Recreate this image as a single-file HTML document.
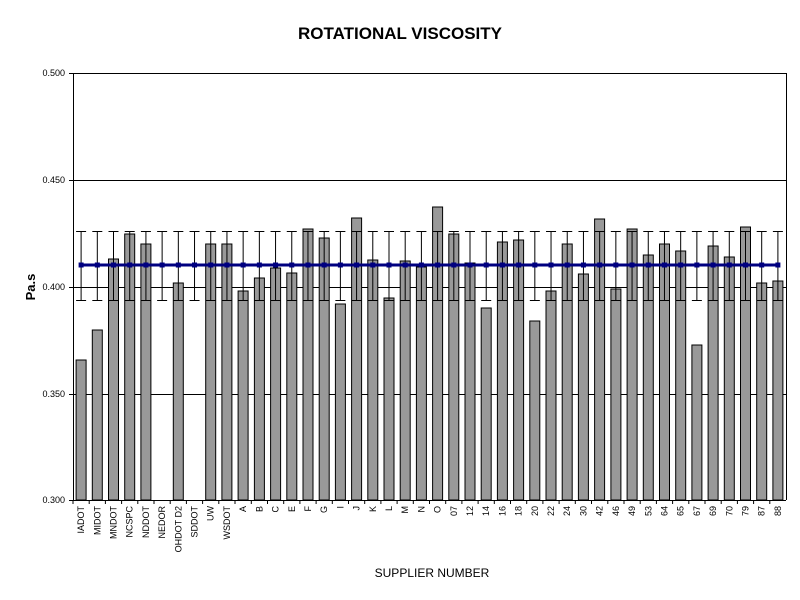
<!DOCTYPE html>
<html><head><meta charset="utf-8"><style>
html,body{margin:0;padding:0;background:#fff;}
svg{display:block;font-family:"Liberation Sans",Arial,sans-serif;}
</style></head><body>
<svg id="c" width="800" height="600" xmlns="http://www.w3.org/2000/svg">
<rect width="800" height="600" fill="#fff"/>
<text x="400" y="39" text-anchor="middle" font-size="17" font-weight="bold">ROTATIONAL VISCOSITY</text>
<text x="0" y="0" transform="translate(35,287) rotate(-90)" text-anchor="middle" font-size="13" font-weight="bold">Pa.s</text>
<text x="432" y="577" text-anchor="middle" font-size="12">SUPPLIER NUMBER</text>
<g stroke="#000" stroke-width="1">
<line x1="73" y1="73.5" x2="786" y2="73.5"/>
<line x1="73" y1="180.5" x2="786" y2="180.5"/>
<line x1="73" y1="287.5" x2="786" y2="287.5"/>
<line x1="73" y1="394.5" x2="786" y2="394.5"/>
<line x1="73" y1="500.5" x2="786" y2="500.5"/>
<line x1="73.5" y1="73" x2="73.5" y2="500"/>
<line x1="786.5" y1="73" x2="786.5" y2="500"/>
<line x1="69" y1="73.5" x2="73" y2="73.5"/>
<line x1="69" y1="180.5" x2="73" y2="180.5"/>
<line x1="69" y1="287.5" x2="73" y2="287.5"/>
<line x1="69" y1="394.5" x2="73" y2="394.5"/>
<line x1="69" y1="500.5" x2="73" y2="500.5"/>
</g>
<g font-size="9" text-anchor="end">
<text x="65" y="76">0.500</text>
<text x="65" y="183">0.450</text>
<text x="65" y="290">0.400</text>
<text x="65" y="397">0.350</text>
<text x="65" y="503">0.300</text>
</g>
<g id="bars"></g>
</svg>
<script>
var labels=["IADOT","MIDOT","MNDOT","NCSPC","NDDOT","NEDOR","OHDOT D2","SDDOT","UW","WSDOT","A","B","C","E","F","G","I","J","K","L","M","N","O","07","12","14","16","18","20","22","24","30","42","46","49","53","64","65","67","69","70","79","87","88"];
var tops=[360,330,259,234,244,null,283,null,244,244,291,278,268,273,229,238,304,218,260,298,261,267,207,234,263,308,242,240,321,291,244,274,219,289,229,255,244,251,345,246,257,227,283,281];
var ns="http://www.w3.org/2000/svg",g=document.getElementById("bars");
function el(t,a,txt){var e=document.createElementNS(ns,t);for(var k in a)e.setAttribute(k,a[k]);if(txt)e.textContent=txt;g.appendChild(e);return e;}
var x0=73,w=(786-73)/44,pts=[];
for(var i=0;i<44;i++){
 var cx=x0+w*(i+0.5);
 if(tops[i]!==null) el("rect",{x:(cx-5).toFixed(1),y:tops[i],width:10,height:500-tops[i],fill:"#999999",stroke:"#000","stroke-width":1});
 el("line",{x1:(x0+w*i).toFixed(1),y1:500,x2:(x0+w*i).toFixed(1),y2:504,stroke:"#000"});
 el("line",{x1:cx,y1:231,x2:cx,y2:300,stroke:"#000"});
 el("line",{x1:cx-5,y1:231.5,x2:cx+5,y2:231.5,stroke:"#000"});
 el("line",{x1:cx-5,y1:300.5,x2:cx+5,y2:300.5,stroke:"#000"});
 pts.push(cx.toFixed(1)+",265");
 el("text",{x:0,y:0,transform:"translate("+(cx+3)+",506) rotate(-90)","text-anchor":"end","font-size":"9"},labels[i]);
}
el("polyline",{points:pts.join(" "),fill:"none",stroke:"#000080","stroke-width":3});
for(var i=0;i<44;i++){var cx=x0+w*(i+0.5);el("rect",{x:cx-2.5,y:262.5,width:5,height:5,fill:"#000080"});}
</script>
</body></html>
